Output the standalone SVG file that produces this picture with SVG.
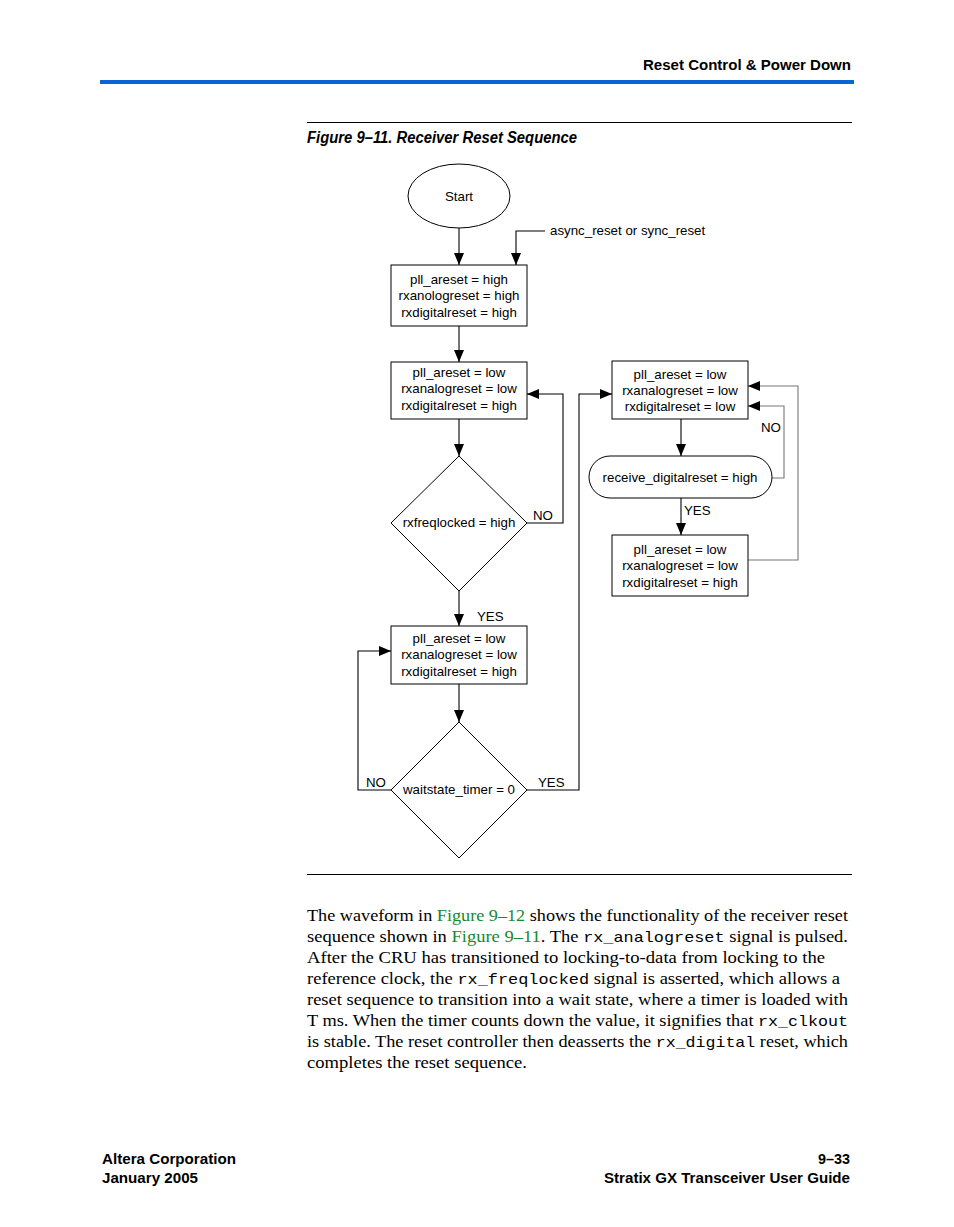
<svg xmlns="http://www.w3.org/2000/svg" width="954" height="1227" viewBox="0 0 954 1227">
<defs>
<marker id="ah" markerUnits="userSpaceOnUse" markerWidth="12" markerHeight="12" viewBox="0 0 12 12" refX="12" refY="6" orient="auto">
<path d="M0,1 L12,6 L0,11 Z" fill="#000"/>
</marker>
</defs>
<style>
.n{fill:#fff;stroke:#000;stroke-width:1}
.t{font-family:"Liberation Sans",Arial,sans-serif;font-size:13.3px;fill:#000;text-anchor:middle}
.l{font-family:"Liberation Sans",Arial,sans-serif;font-size:13.3px;fill:#000}
.c{fill:none;stroke:#000;stroke-width:1.1}
.g{fill:none;stroke:#777;stroke-width:1.1}
.b{font-family:"Liberation Serif","Times New Roman",serif;font-size:16.5px;fill:#000}
.m{font-family:"Liberation Mono","Courier New",monospace;font-size:15px}
.k{fill:#178a2a}
.h{font-family:"Liberation Sans",Arial,sans-serif;font-weight:bold;font-size:14px;fill:#000}
</style>
<rect width="954" height="1227" fill="#fff"/>
<!-- header -->
<text class="h" x="851" y="70" text-anchor="end" textLength="208" lengthAdjust="spacingAndGlyphs">Reset Control &amp; Power Down</text>
<rect x="100" y="80" width="754" height="4" fill="#0a64d2"/>
<line x1="307" y1="122.5" x2="852" y2="122.5" stroke="#000" stroke-width="1"/>
<text x="307" y="143" font-family="Liberation Sans,Arial,sans-serif" font-weight="bold" font-style="italic" font-size="16px" textLength="270" lengthAdjust="spacingAndGlyphs">Figure 9–11. Receiver Reset Sequence</text>
<line x1="307" y1="874.5" x2="852" y2="874.5" stroke="#000" stroke-width="1"/>

<g id="connectors">
<path class="c" d="M459,228 V265" marker-end="url(#ah)"/>
<path class="c" d="M545,231 H516 V265" marker-end="url(#ah)"/>
<path class="c" d="M459,326 V362" marker-end="url(#ah)"/>
<path class="c" d="M459,419 V456" marker-end="url(#ah)"/>
<path class="c" d="M527,523 H563 V394 H527" marker-end="url(#ah)"/>
<path class="c" d="M459,591 V626" marker-end="url(#ah)"/>
<path class="c" d="M459,684 V722" marker-end="url(#ah)"/>
<path class="c" d="M391,790 H358 V651 H391" marker-end="url(#ah)"/>
<path class="c" d="M527,790 H579 V394 H612" marker-end="url(#ah)"/>
<path class="c" d="M681,419 V456" marker-end="url(#ah)"/>
<path class="g" d="M772,478 H784 V406 H748" marker-end="url(#ah)"/>
<path class="c" d="M681,498 V535" marker-end="url(#ah)"/>
<path class="g" d="M748,560 H798 V386 H748" marker-end="url(#ah)"/>
<text class="l" x="550" y="235">async_reset or sync_reset</text>
<text class="l" x="533" y="520">NO</text>
<text class="l" x="477" y="621">YES</text>
<text class="l" x="366" y="787">NO</text>
<text class="l" x="538" y="787">YES</text>
<text class="l" x="761" y="432">NO</text>
<text class="l" x="684" y="515">YES</text>
</g>

<g id="start">
<ellipse class="n" cx="459" cy="196" rx="51" ry="32"/>
<text class="t" x="459" y="201">Start</text>
</g>
<g id="box1">
<rect class="n" x="391" y="265" width="136" height="61"/>
<text class="t" x="459" y="284">pll_areset = high</text>
<text class="t" x="459" y="300">rxanologreset = high</text>
<text class="t" x="459" y="317">rxdigitalreset = high</text>
</g>
<g id="box2">
<rect class="n" x="391" y="362" width="136" height="57"/>
<text class="t" x="459" y="377">pll_areset = low</text>
<text class="t" x="459" y="393">rxanalogreset = low</text>
<text class="t" x="459" y="410">rxdigitalreset = high</text>
</g>
<g id="dec1">
<polygon class="n" points="459,456 527,523 459,591 391,523"/>
<text class="t" x="459" y="527">rxfreqlocked = high</text>
</g>
<g id="box3">
<rect class="n" x="391" y="626" width="136" height="58"/>
<text class="t" x="459" y="643">pll_areset = low</text>
<text class="t" x="459" y="659">rxanalogreset = low</text>
<text class="t" x="459" y="676">rxdigitalreset = high</text>
</g>
<g id="dec2">
<polygon class="n" points="459,722 527,790 459,858 391,790"/>
<text class="t" x="459" y="794">waitstate_timer = 0</text>
</g>
<g id="box4">
<rect class="n" x="612" y="361" width="136" height="58"/>
<text class="t" x="680" y="379">pll_areset = low</text>
<text class="t" x="680" y="395">rxanalogreset = low</text>
<text class="t" x="680" y="411">rxdigitalreset = low</text>
</g>
<g id="pill">
<rect class="n" x="589" y="456" width="183" height="42" rx="21" ry="21"/>
<text class="t" x="680" y="482">receive_digitalreset = high</text>
</g>
<g id="box5">
<rect class="n" x="612" y="535" width="136" height="61"/>
<text class="t" x="680" y="554">pll_areset = low</text>
<text class="t" x="680" y="570">rxanalogreset = low</text>
<text class="t" x="680" y="587">rxdigitalreset = high</text>
</g>

<!-- body text -->
<text class="b" x="307" y="921" textLength="541" lengthAdjust="spacingAndGlyphs">The waveform in <tspan class="k">Figure 9–12</tspan> shows the functionality of the receiver reset</text>
<text class="b" x="307" y="942" textLength="541" lengthAdjust="spacingAndGlyphs">sequence shown in <tspan class="k">Figure 9–11</tspan>. The <tspan class="m">rx_analogreset</tspan> signal is pulsed.</text>
<text class="b" x="307" y="963" textLength="518" lengthAdjust="spacingAndGlyphs">After the CRU has transitioned to locking-to-data from locking to the</text>
<text class="b" x="307" y="984" textLength="533" lengthAdjust="spacingAndGlyphs">reference clock, the <tspan class="m">rx_freqlocked</tspan> signal is asserted, which allows a</text>
<text class="b" x="307" y="1005" textLength="541" lengthAdjust="spacingAndGlyphs">reset sequence to transition into a wait state, where a timer is loaded with</text>
<text class="b" x="307" y="1026" textLength="541" lengthAdjust="spacingAndGlyphs">T ms. When the timer counts down the value, it signifies that <tspan class="m">rx_clkout</tspan></text>
<text class="b" x="307" y="1047" textLength="541" lengthAdjust="spacingAndGlyphs">is stable. The reset controller then deasserts the <tspan class="m">rx_digital</tspan> reset, which</text>
<text class="b" x="307" y="1068" textLength="220" lengthAdjust="spacingAndGlyphs">completes the reset sequence.</text>

<!-- footer -->
<text class="h" x="102" y="1164" textLength="134" lengthAdjust="spacingAndGlyphs">Altera Corporation</text>
<text class="h" x="102" y="1183" textLength="96" lengthAdjust="spacingAndGlyphs">January 2005</text>
<text class="h" x="850" y="1164" text-anchor="end" textLength="32" lengthAdjust="spacingAndGlyphs">9–33</text>
<text class="h" x="850" y="1183" text-anchor="end" textLength="246" lengthAdjust="spacingAndGlyphs">Stratix GX Transceiver User Guide</text>
</svg>
